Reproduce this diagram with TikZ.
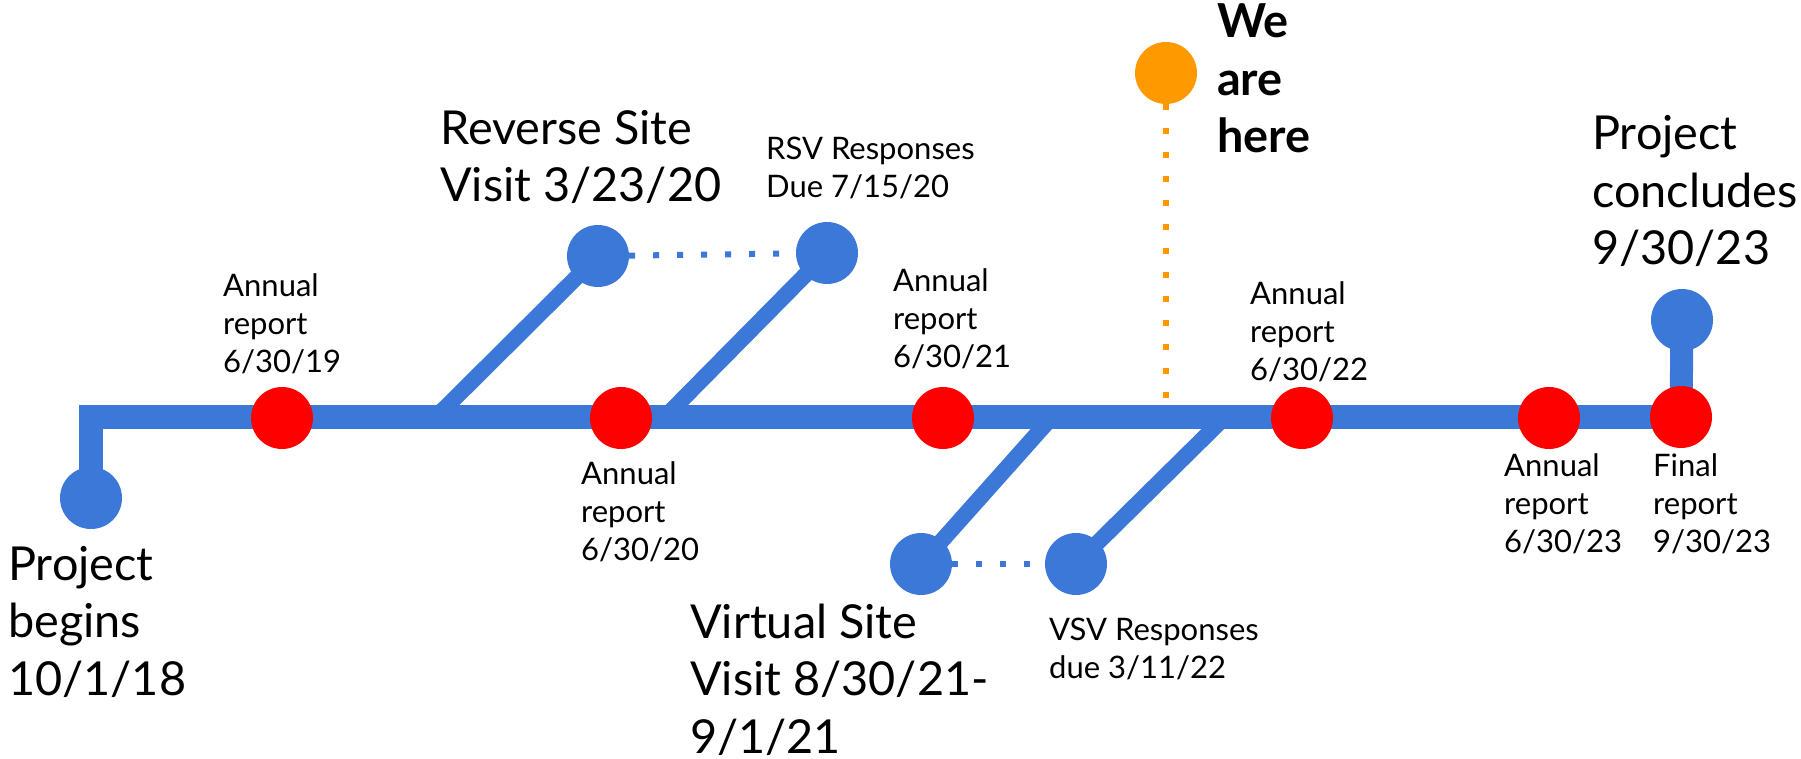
\documentclass[tikz,border=0pt]{standalone}
\usepackage{fontspec}
\setmainfont{Lato}
\usetikzlibrary{backgrounds}
\definecolor{tlblue}{HTML}{3C78D8}
\definecolor{tlred}{HTML}{FF0000}
\definecolor{tlorange}{HTML}{FF9900}
\newcommand{\bigtxt}{\fontsize{46.8}{57.5}\selectfont}
\newcommand{\smalltxt}{\fontsize{31}{38}\selectfont}
\tikzset{
  dotblue/.style={circle,fill=tlblue,minimum size=62pt,inner sep=0pt},
  dotred/.style={circle,fill=tlred,minimum size=62pt,inner sep=0pt},
  dotorange/.style={circle,fill=tlorange,minimum size=62pt,inner sep=0pt},
  mainline/.style={draw=tlblue,line width=24pt,line join=miter},
  stemline/.style={draw=tlblue,line width=23pt},
  branch/.style={draw=tlblue,line width=16pt},
  bluedots/.style={draw=tlblue,line width=6pt,dash pattern=on 6pt off 18pt},
  orangedots/.style={draw=tlorange,line width=6pt,dash pattern=on 6pt off 18pt},
  bigl/.style={anchor=base west,inner sep=0pt,align=left,font=\bigtxt},
  smalll/.style={anchor=base west,inner sep=0pt,align=left,font=\smalltxt},
}
\begin{document}
\begin{tikzpicture}[x=1pt,y=-1pt]
\useasboundingbox (0,0) rectangle (1801,759);
% circles
\node[dotblue] (start) at (91,498) {};
\node[dotred] (r1) at (282,418) {};
\node[dotred] (r2) at (621,418) {};
\node[dotred] (r3) at (943,418) {};
\node[dotred] (r4) at (1302,418) {};
\node[dotred] (r5) at (1549,418) {};
\node[dotred] (r6) at (1681,417) {};
\node[dotblue] (rsvA) at (598,256) {};
\node[dotblue] (rsvB) at (827,253) {};
\node[dotblue] (vsvA) at (921,564) {};
\node[dotblue] (vsvB) at (1076,564) {};
\node[dotorange] (here) at (1166,73) {};
\node[dotblue] (fin) at (1682,320) {};
% junction points
\coordinate (corner) at (91,417);
\coordinate (j1) at (436,417);
\coordinate (j2) at (665,417);
\coordinate (j3) at (1052,417);
\coordinate (j4) at (1225,417);
\coordinate (hereend) at (1166,416);
% lines behind circles
\begin{pgfonlayer}{background}
  \draw[mainline] (start.center) -- (corner) -- (r6.center);
  \draw[stemline] (r6.center) -- (fin.center);
  \draw[branch] (j1) -- (rsvA.center);
  \draw[branch] (j2) -- (rsvB.center);
  \draw[branch] (j3) -- (vsvA.center);
  \draw[branch] (j4) -- (vsvB.center);
  \draw[bluedots] (rsvA) -- (rsvB);
  \draw[bluedots] (vsvA) -- (vsvB);
\end{pgfonlayer}
\draw[orangedots] (here) -- (hereend);
% labels (anchored at the baseline of the last line)
\node[bigl] (lstart) at (8,695) {Project\\begins\\10/1/18};
\node[bigl] (lrsv) at (440,202) {Reverse Site\\Visit 3/23/20};
\node[smalll] (lrsvr) at (766,198) {RSV Responses\\Due 7/15/20};
\node[smalll] (l1) at (223,372) {Annual\\report\\6/30/19};
\node[smalll] (l2) at (581,560) {Annual\\report\\6/30/20};
\node[smalll] (l3) at (893,367) {Annual\\report\\6/30/21};
\node[smalll] (l4) at (1250,380) {Annual\\report\\6/30/22};
\node[smalll] (l5) at (1504,552) {Annual\\report\\6/30/23};
\node[smalll] (l6) at (1653,552) {Final\\report\\9/30/23};
\node[bigl] (lvsv) at (690,753) {Virtual Site\\Visit 8/30/21-\\9/1/21};
\node[smalll] (lvsvr) at (1049,678) {VSV Responses\\due 3/11/22};
\node[bigl,font=\bigtxt\bfseries] (lhere) at (1217,153) {We\\are\\here};
\node[bigl] (lend) at (1592,265) {Project\\concludes\\9/30/23};
\end{tikzpicture}
\end{document}
